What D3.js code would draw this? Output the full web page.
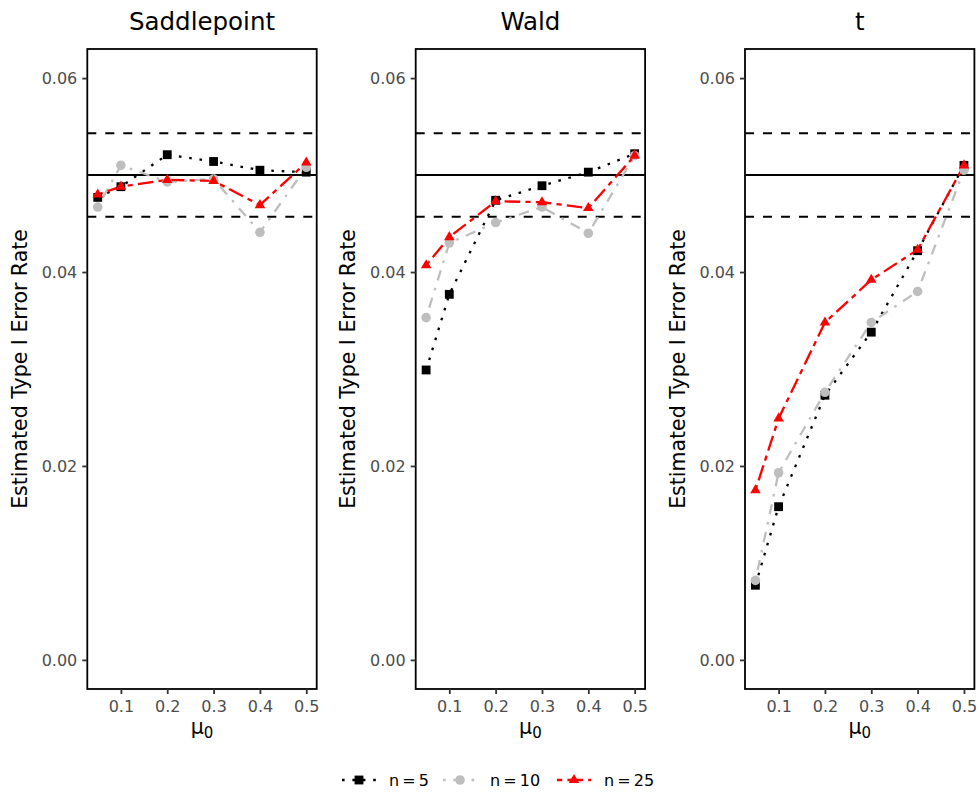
<!DOCTYPE html>
<html><head><meta charset="utf-8">
<script src="https://cdn.jsdelivr.net/npm/d3@7"></script>
<style>
body{margin:0;background:#fff}
svg{display:block}
text{font-family:"DejaVu Sans",sans-serif}
</style></head>
<body><svg id="c" width="979" height="793"></svg>
<script>
// ---- data ----
const mu0 = [0.05, 0.1, 0.2, 0.3, 0.4, 0.5];
const methods = ["Saddlepoint", "Wald", "t"];
const seriesNames = ["n = 5", "n = 10", "n = 25"];
const saddle_n5  = [0.0477, 0.0488, 0.0521, 0.0514, 0.0505, 0.0503];
const saddle_n10 = [0.0467, 0.0510, 0.0493, 0.0496, 0.0441, 0.0508];
const saddle_n25 = [0.0480, 0.0488, 0.0495, 0.0494, 0.0469, 0.0513];
const wald_n5  = [0.0299, 0.0377, 0.0474, 0.0489, 0.0503, 0.0522];
const wald_n10 = [0.0353, 0.0430, 0.0451, 0.0467, 0.0440, 0.0520];
const wald_n25 = [0.0407, 0.0436, 0.0473, 0.0472, 0.0466, 0.0520];
const t_n5  = [0.0077, 0.0158, 0.0273, 0.0338, 0.0422, 0.0510];
const t_n10 = [0.0082, 0.0193, 0.0276, 0.0348, 0.0380, 0.0505];
const t_n25 = [0.0175, 0.0249, 0.0348, 0.0392, 0.0423, 0.0510];
const nominalLine = [0.05];
const boundLines = [0.0457, 0.0543];
const yTicks = [0.00, 0.02, 0.04, 0.06];
const xTicks = [0.1, 0.2, 0.3, 0.4, 0.5];
const yDomainData = [0, 0.06];

const panelData = [
  [saddle_n5, saddle_n10, saddle_n25],
  [wald_n5, wald_n10, wald_n25],
  [t_n5, t_n10, t_n25]
];

// ---- styles ----
const colors = ["#000000", "#BEBEBE", "#FF0000"];
const u = 2.6;
const dashes = [`${u},${3*u}`, `${u},${3*u},${4*u},${3*u}`, `${2*u},${2*u},${6*u},${2*u}`];
const symbols = [d3.symbolSquare, d3.symbolCircle, d3.symbolTriangle];
const symSizes = [78, 72, 48];

const svg = d3.select("#c");
const panelLefts = [87.3, 415.7, 745];
const panelW = 229.4, pTop = 49, pBottom = 689;

const xpad = (mu0[mu0.length-1] - mu0[0]) * 0.05;
const ypad = (yDomainData[1] - yDomainData[0]) * 0.05;

methods.forEach((m, pi) => {
  const L = panelLefts[pi];
  const x = d3.scaleLinear().domain([mu0[0] - xpad, mu0[mu0.length-1] + xpad]).range([L, L + panelW]);
  const y = d3.scaleLinear().domain([yDomainData[0] - ypad, yDomainData[1] + ypad]).range([pBottom, pTop]);
  const g = svg.append("g");

  // hlines
  g.selectAll(".nom").data(nominalLine).join("line")
    .attr("x1", L).attr("x2", L + panelW)
    .attr("y1", d => y(d)).attr("y2", d => y(d))
    .attr("stroke", "#000").attr("stroke-width", 2);
  g.selectAll(".bnd").data(boundLines).join("line")
    .attr("x1", L).attr("x2", L + panelW)
    .attr("y1", d => y(d)).attr("y2", d => y(d))
    .attr("stroke", "#000").attr("stroke-width", 2)
    .attr("stroke-dasharray", "9,9");

  const line = d3.line().x((d, i) => x(mu0[i])).y(d => y(d));
  panelData[pi].forEach((vals, si) => {
    g.append("path").attr("d", line(vals))
      .attr("fill", "none").attr("stroke", colors[si])
      .attr("stroke-width", 2.3).attr("stroke-dasharray", dashes[si]);
  });
  panelData[pi].forEach((vals, si) => {
    g.selectAll(null).data(vals).join("path")
      .attr("transform", (d, i) => `translate(${x(mu0[i])},${y(d)})`)
      .attr("d", d3.symbol(symbols[si], symSizes[si]))
      .attr("fill", colors[si]);
  });

  // border
  g.append("rect").attr("x", L).attr("y", pTop).attr("width", panelW).attr("height", pBottom - pTop)
    .attr("fill", "none").attr("stroke", "#000").attr("stroke-width", 1.8);

  // axes
  const ya = g.append("g").attr("transform", `translate(${L},0)`)
    .call(d3.axisLeft(y).tickValues(yTicks).tickFormat(d3.format(".2f")).tickSize(5).tickPadding(5));
  const xa = g.append("g").attr("transform", `translate(0,${pBottom})`)
    .call(d3.axisBottom(x).tickValues(xTicks).tickFormat(d3.format(".1f")).tickSize(5).tickPadding(7));
  [ya, xa].forEach(a => {
    a.select(".domain").remove();
    a.selectAll(".tick line").attr("stroke", "#333").attr("stroke-width", 1.8);
    a.selectAll(".tick text").attr("fill", "#4D4D4D").style("font-size", "16px")
      .style("font-family", '"DejaVu Sans",sans-serif');
  });

  // title
  g.append("text").attr("x", L + panelW / 2).attr("y", 29.5).attr("text-anchor", "middle")
    .style("font-size", "24.5px").attr("fill", "#000").text(m);

  // y title
  g.append("text").attr("transform", `translate(${L - 60.5},${(pTop + pBottom) / 2}) rotate(-90)`)
    .attr("text-anchor", "middle").style("font-size", "20.5px").attr("fill", "#000")
    .text("Estimated Type I Error Rate");

  // x title
  const xt = g.append("text").attr("x", L + panelW / 2).attr("y", 734).attr("text-anchor", "middle")
    .style("font-size", "20.5px").attr("fill", "#000");
  xt.append("tspan").text("μ");
  xt.append("tspan").attr("dy", 4).style("font-size", "15px").text("0");
});

// legend
const legCx = [359, 460, 574];
const legY = 780;
seriesNames.forEach((s, si) => {
  const cx = legCx[si];
  const lg = svg.append("g");
  lg.append("line").attr("x1", cx - 17).attr("x2", cx + 17).attr("y1", legY).attr("y2", legY)
    .attr("stroke", colors[si]).attr("stroke-width", 2.3).attr("stroke-dasharray", dashes[si]);
  lg.append("path").attr("transform", `translate(${cx},${legY})`)
    .attr("d", d3.symbol(symbols[si], symSizes[si])).attr("fill", colors[si]);
  lg.append("text").attr("x", cx + 30).attr("y", legY + 6).style("font-size", "16px")
    .attr("fill", "#000").style("word-spacing", "-2px").text(s);
});
</script>
</body></html>
